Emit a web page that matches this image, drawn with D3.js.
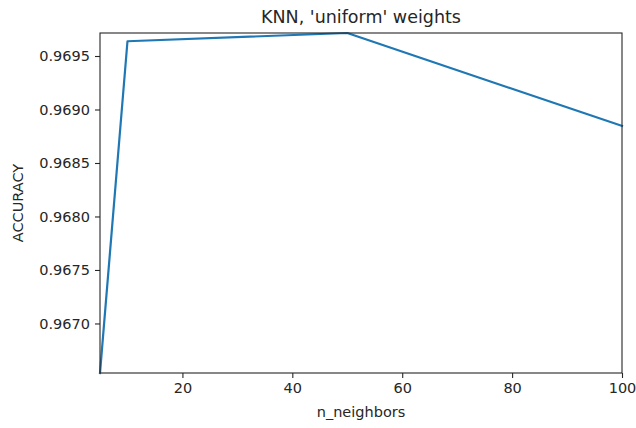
<!DOCTYPE html>
<html>
<head>
<meta charset="utf-8">
<script src="https://cdn.jsdelivr.net/npm/d3@7"></script>
<style>
  body { margin: 0; background: #fff; }
  svg text { font-family: "DejaVu Sans", sans-serif; fill: #262626; }
</style>
</head>
<body>
<svg id="chart"></svg>
<script>
(function(){

  // n_neighbors vs accuracy
  const neighbors = [5, 10, 50, 100];
  const accuracy = [0.966537, 0.969638, 0.969715, 0.968846];
  const xTicks = [20, 40, 60, 80, 100];
  const yTicks = [0.9670, 0.9675, 0.9680, 0.9685, 0.9690, 0.9695];

  let width = 636, height = 428;
  let margin = {top: 33, right: 14, bottom: 55, left: 100};

  let svg = d3.select('svg#chart')
      .attr('width', width)
      .attr('height', height);

  let x = d3.scaleLinear()
      .domain([5, 100])
      .range([margin.left, width - margin.right]);

  let y = d3.scaleLinear()
      .domain(d3.extent(accuracy))
      .range([height - margin.bottom, margin.top]);

  let data = neighbors.map((n, i) => ({n: n, acc: accuracy[i]}));

  let line = d3.line()
      .x(d => x(d.n))
      .y(d => y(d.acc));

  svg.append('path')
      .datum(data)
      .attr('fill', 'none')
      .attr('stroke', '#1f77b4')
      .attr('stroke-width', 2.2)
      .attr('stroke-linejoin', 'round')
      .attr('stroke-linecap', 'square')
      .attr('d', line);

  let xAxis = svg.append('g')
      .attr('transform', `translate(0,${height - margin.bottom})`)
      .call(d3.axisBottom(x).tickValues(xTicks).tickSize(5).tickPadding(5).tickSizeOuter(0));

  let yAxis = svg.append('g')
      .attr('transform', `translate(${margin.left},0)`)
      .call(d3.axisLeft(y).tickValues(yTicks).tickFormat(d3.format('.4f')).tickSize(5).tickPadding(5).tickSizeOuter(0));

  [xAxis, yAxis].forEach(g => {
    g.select('.domain').remove();
    g.selectAll('.tick line').attr('stroke', '#262626').attr('stroke-width', 1.1);
    g.selectAll('.tick text').attr('font-size', 14.5).attr('fill', '#262626')
      .attr('font-family', '"DejaVu Sans", sans-serif');
  });

  // frame
  svg.append('rect')
      .attr('x', margin.left)
      .attr('y', margin.top)
      .attr('width', width - margin.left - margin.right)
      .attr('height', height - margin.top - margin.bottom)
      .attr('fill', 'none')
      .attr('stroke', '#262626')
      .attr('stroke-width', 1.1);

  svg.append('text')
      .attr('x', (margin.left + width - margin.right) / 2)
      .attr('y', 23)
      .attr('text-anchor', 'middle')
      .attr('font-size', 17.5)
      .text("KNN, 'uniform' weights");

  svg.append('text')
      .attr('x', (margin.left + width - margin.right) / 2)
      .attr('y', 417)
      .attr('text-anchor', 'middle')
      .attr('font-size', 14.5)
      .text('n_neighbors');

  svg.append('text')
      .attr('transform', `translate(23,${(margin.top + height - margin.bottom) / 2}) rotate(-90)`)
      .attr('text-anchor', 'middle')
      .attr('font-size', 14.5)
      .text('ACCURACY');

})();
</script>
</body>
</html>
